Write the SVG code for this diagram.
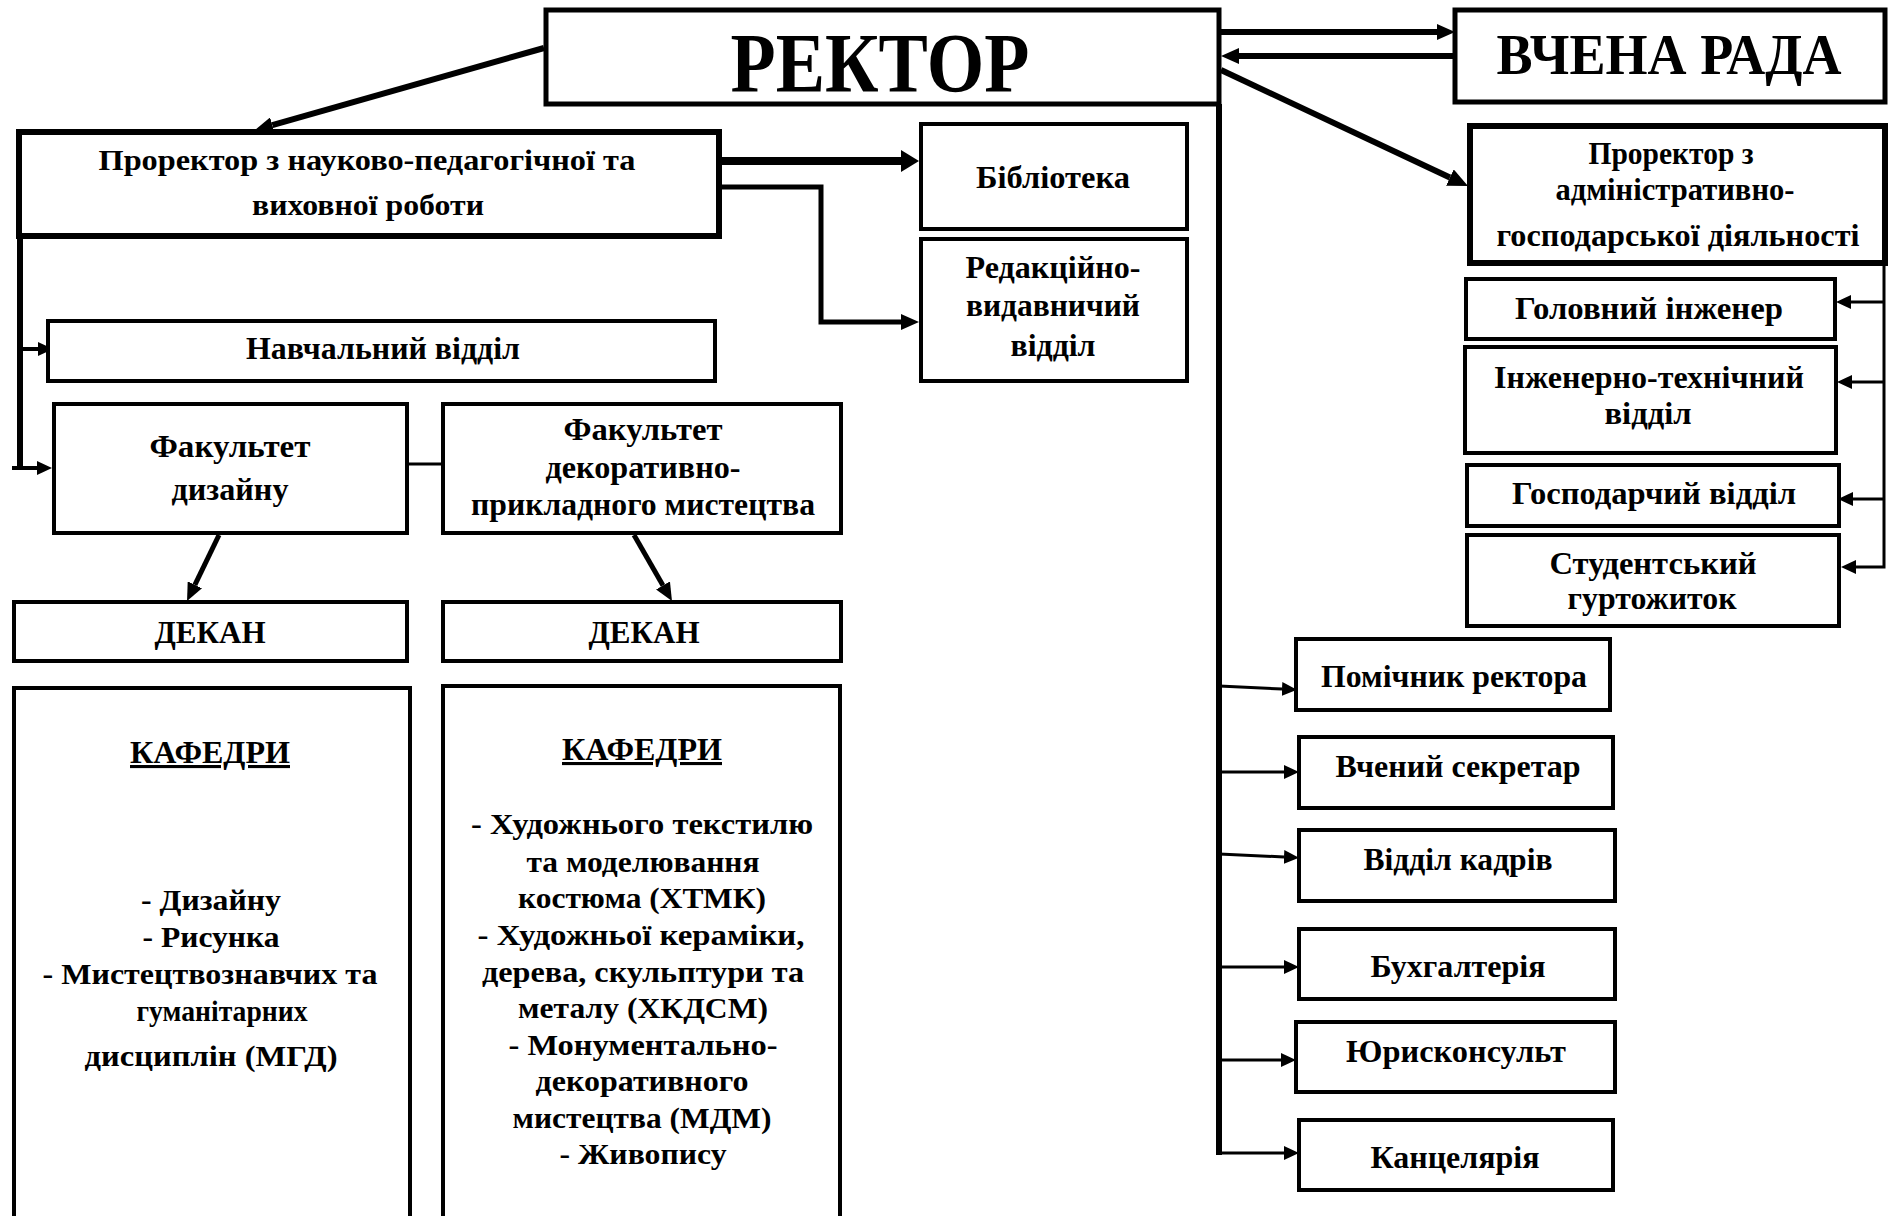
<svg xmlns="http://www.w3.org/2000/svg" width="1888" height="1216" viewBox="0 0 1888 1216">
<style>
.b{fill:#fff;stroke:#000;stroke-width:4}
.b5{fill:#fff;stroke:#000;stroke-width:5}
.b6{fill:#fff;stroke:#000;stroke-width:6}
.t{font-family:"Liberation Serif","Times New Roman",Times,serif;font-weight:bold;text-anchor:middle;fill:#000;font-size:31px}
.s28{font-size:29px}
.big{font-size:84px}
.mid{font-size:56px}
.c{fill:none;stroke:#000;stroke-linecap:butt;stroke-linejoin:miter}
</style>
<defs>
<marker id="a16" markerWidth="18" markerHeight="16" refX="0" refY="8" orient="auto" markerUnits="userSpaceOnUse"><path d="M0,0 L18,8 L0,16 z"/></marker>
<marker id="a22" markerWidth="18" markerHeight="22" refX="0" refY="11" orient="auto" markerUnits="userSpaceOnUse"><path d="M0,0 L18,11 L0,22 z"/></marker>
<marker id="a20" markerWidth="20" markerHeight="18" refX="0" refY="9" orient="auto" markerUnits="userSpaceOnUse"><path d="M0,0 L20,9 L0,18 z"/></marker>
<marker id="a14" markerWidth="15" markerHeight="14" refX="0" refY="7" orient="auto" markerUnits="userSpaceOnUse"><path d="M0,0 L15,7 L0,14 z"/></marker>
</defs>
<rect width="1888" height="1216" fill="#fff"/>

<g id="connectors">
<path class="c" stroke-width="6" d="M1221,32 H1437" marker-end="url(#a16)"/>
<path class="c" stroke-width="6" d="M1455,56 H1239" marker-end="url(#a16)"/>
<path class="c" stroke-width="6" d="M544,48 L272.3,125.1" marker-end="url(#a16)"/>
<path class="c" stroke-width="8" d="M720,161 H901" marker-end="url(#a22)"/>
<path class="c" stroke-width="5" d="M720,187 H821 V322 H901" marker-end="url(#a16)"/>
<path class="c" stroke-width="6" d="M20,237 V470"/>
<path class="c" stroke-width="4" d="M20,349 H38" marker-end="url(#a14)"/>
<path class="c" stroke-width="4" d="M12,468 H37" marker-end="url(#a14)"/>
<path class="c" stroke-width="3" d="M407,464 H443"/>
<path class="c" stroke-width="5" d="M219,535 L194.9,584.8" marker-end="url(#a16)"/>
<path class="c" stroke-width="5" d="M634,535 L663,585.4" marker-end="url(#a16)"/>
<path class="c" stroke-width="6" d="M1221,70 L1449.9,177.5" marker-end="url(#a20)"/>
<path class="c" stroke-width="6" d="M1219,104 V1155"/>
<path class="c" stroke-width="3" d="M1219,1153 H1284" marker-end="url(#a14)"/>
<path class="c" stroke-width="3" d="M1219,686 L1282,689" marker-end="url(#a14)"/>
<path class="c" stroke-width="3" d="M1219,772 H1284" marker-end="url(#a14)"/>
<path class="c" stroke-width="3" d="M1219,854 L1284,857" marker-end="url(#a14)"/>
<path class="c" stroke-width="3" d="M1219,967 H1284" marker-end="url(#a14)"/>
<path class="c" stroke-width="3" d="M1219,1060 H1281" marker-end="url(#a14)"/>
<path class="c" stroke-width="3" d="M1884,263 V567 H1856" marker-end="url(#a14)"/>
<path class="c" stroke-width="3" d="M1884,302 H1851" marker-end="url(#a14)"/>
<path class="c" stroke-width="3" d="M1884,382 H1852" marker-end="url(#a14)"/>
<path class="c" stroke-width="3" d="M1884,499 H1853" marker-end="url(#a14)"/>
</g>

<g id="rector"><rect class="b5" x="546" y="10" width="673" height="94"/>
<text class="t big" x="880" y="92" textLength="299" lengthAdjust="spacingAndGlyphs">РЕКТОР</text></g>

<g id="vchena-rada"><rect class="b5" x="1455" y="10" width="430" height="92"/>
<text class="t mid" x="1669" y="74" textLength="345" lengthAdjust="spacingAndGlyphs">ВЧЕНА РАДА</text></g>

<g id="prorector-npvr"><rect class="b6" x="19" y="132" width="700" height="104"/>
<text class="t s28" x="367" y="170" textLength="537" lengthAdjust="spacingAndGlyphs">Проректор з науково-педагогічної та</text>
<text class="t s28" x="368" y="215" textLength="232" lengthAdjust="spacingAndGlyphs">виховної роботи</text></g>

<g id="biblioteka"><rect class="b" x="921" y="124" width="266" height="105"/>
<text class="t" x="1053" y="188" textLength="154" lengthAdjust="spacingAndGlyphs">Бібліотека</text></g>

<g id="redaktsiino"><rect class="b" x="921" y="239" width="266" height="142"/>
<text class="t" x="1053" y="278" textLength="175" lengthAdjust="spacingAndGlyphs">Редакційно-</text>
<text class="t" x="1053" y="316" textLength="174" lengthAdjust="spacingAndGlyphs">видавничий</text>
<text class="t" x="1053" y="356" textLength="85" lengthAdjust="spacingAndGlyphs">відділ</text></g>

<g id="navchalnyi"><rect class="b" x="48" y="321" width="667" height="60"/>
<text class="t" x="383" y="359" textLength="274" lengthAdjust="spacingAndGlyphs">Навчальний відділ</text></g>

<g id="fak-dyzainu"><rect class="b" x="54" y="404" width="353" height="129"/>
<text class="t" x="230" y="457" textLength="161" lengthAdjust="spacingAndGlyphs">Факультет</text>
<text class="t" x="230" y="500" textLength="117" lengthAdjust="spacingAndGlyphs">дизайну</text></g>

<g id="fak-dpm"><rect class="b" x="443" y="404" width="398" height="129"/>
<text class="t" x="643" y="440" textLength="159" lengthAdjust="spacingAndGlyphs">Факультет</text>
<text class="t" x="643" y="478" textLength="195" lengthAdjust="spacingAndGlyphs">декоративно-</text>
<text class="t" x="643" y="515" textLength="344" lengthAdjust="spacingAndGlyphs">прикладного мистецтва</text></g>

<g id="dekan-1"><rect class="b" x="14" y="602" width="393" height="59"/>
<text class="t" x="210" y="643" textLength="111" lengthAdjust="spacingAndGlyphs">ДЕКАН</text></g>

<g id="dekan-2"><rect class="b" x="443" y="602" width="398" height="59"/>
<text class="t" x="644" y="643" textLength="111" lengthAdjust="spacingAndGlyphs">ДЕКАН</text></g>

<g id="kafedry-1"><rect class="b" x="14" y="688" width="396" height="560"/>
<text class="t" x="210" y="763" text-decoration="underline" textLength="160" lengthAdjust="spacingAndGlyphs">КАФЕДРИ</text>
<text class="t s28" x="211" y="910" textLength="140" lengthAdjust="spacingAndGlyphs">- Дизайну</text>
<text class="t s28" x="211" y="947" textLength="137" lengthAdjust="spacingAndGlyphs">- Рисунка</text>
<text class="t s28" x="210" y="984" textLength="335" lengthAdjust="spacingAndGlyphs">- Мистецтвознавчих та</text>
<text class="t s28" x="222" y="1021" textLength="171" lengthAdjust="spacingAndGlyphs">гуманітарних</text>
<text class="t s28" x="211" y="1066" textLength="253" lengthAdjust="spacingAndGlyphs">дисциплін (МГД)</text></g>

<g id="kafedry-2"><rect class="b" x="443" y="686" width="397" height="560"/>
<text class="t" x="642" y="760" text-decoration="underline" textLength="160" lengthAdjust="spacingAndGlyphs">КАФЕДРИ</text>
<text class="t s28" x="642" y="834" textLength="342" lengthAdjust="spacingAndGlyphs">- Художнього текстилю</text>
<text class="t s28" x="643" y="872" textLength="233" lengthAdjust="spacingAndGlyphs">та моделювання</text>
<text class="t s28" x="642" y="908" textLength="248" lengthAdjust="spacingAndGlyphs">костюма (ХТМК)</text>
<text class="t s28" x="641" y="945" textLength="327" lengthAdjust="spacingAndGlyphs">- Художньої кераміки,</text>
<text class="t s28" x="643" y="982" textLength="322" lengthAdjust="spacingAndGlyphs">дерева, скульптури та</text>
<text class="t s28" x="643" y="1018" textLength="250" lengthAdjust="spacingAndGlyphs">металу (ХКДСМ)</text>
<text class="t s28" x="643" y="1055" textLength="269" lengthAdjust="spacingAndGlyphs">- Монументально-</text>
<text class="t s28" x="642" y="1091" textLength="213" lengthAdjust="spacingAndGlyphs">декоративного</text>
<text class="t s28" x="642" y="1128" textLength="259" lengthAdjust="spacingAndGlyphs">мистецтва (МДМ)</text>
<text class="t s28" x="643" y="1164" textLength="167" lengthAdjust="spacingAndGlyphs">- Живопису</text></g>

<g id="prorector-agd"><rect class="b6" x="1470" y="126" width="415" height="137"/>
<text class="t" x="1671" y="164" textLength="165" lengthAdjust="spacingAndGlyphs">Проректор з</text>
<text class="t" x="1675" y="200" textLength="239" lengthAdjust="spacingAndGlyphs">адміністративно-</text>
<text class="t" x="1678" y="246" textLength="363" lengthAdjust="spacingAndGlyphs">господарської діяльності</text></g>

<g id="golovnyi-inzhener"><rect class="b" x="1466" y="279" width="369" height="60"/>
<text class="t" x="1649" y="319" textLength="268" lengthAdjust="spacingAndGlyphs">Головний інженер</text></g>

<g id="inzh-tekh"><rect class="b" x="1465" y="347" width="371" height="106"/>
<text class="t" x="1649" y="388" textLength="310" lengthAdjust="spacingAndGlyphs">Інженерно-технічний</text>
<text class="t" x="1648" y="424" textLength="87" lengthAdjust="spacingAndGlyphs">відділ</text></g>

<g id="gospodarchyi"><rect class="b" x="1467" y="465" width="372" height="61"/>
<rect x="1741" y="463" width="3" height="4" fill="#000"/>
<text class="t" x="1654" y="504" textLength="284" lengthAdjust="spacingAndGlyphs">Господарчий відділ</text></g>

<g id="gurtozhytok"><rect class="b" x="1467" y="535" width="372" height="91"/>
<text class="t" x="1653" y="574" textLength="207" lengthAdjust="spacingAndGlyphs">Студентський</text>
<text class="t" x="1652" y="609" textLength="169" lengthAdjust="spacingAndGlyphs">гуртожиток</text></g>

<g id="pomichnyk"><rect class="b" x="1296" y="639" width="314" height="71"/>
<text class="t" x="1454" y="687" textLength="266" lengthAdjust="spacingAndGlyphs">Помічник ректора</text></g>

<g id="sekretar"><rect class="b" x="1299" y="737" width="314" height="71"/>
<text class="t" x="1458" y="777" textLength="245" lengthAdjust="spacingAndGlyphs">Вчений секретар</text></g>

<g id="kadry"><rect class="b" x="1299" y="830" width="316" height="71"/>
<text class="t" x="1458" y="870" textLength="189" lengthAdjust="spacingAndGlyphs">Відділ кадрів</text></g>

<g id="bukhgalteriia"><rect class="b" x="1299" y="929" width="316" height="70"/>
<text class="t" x="1458" y="977" textLength="175" lengthAdjust="spacingAndGlyphs">Бухгалтерія</text></g>

<g id="yuryskonsult"><rect class="b" x="1296" y="1022" width="319" height="70"/>
<text class="t" x="1456" y="1062" textLength="220" lengthAdjust="spacingAndGlyphs">Юрисконсульт</text></g>

<g id="kantseliariia"><rect class="b" x="1299" y="1120" width="314" height="70"/>
<text class="t" x="1455" y="1168" textLength="169" lengthAdjust="spacingAndGlyphs">Канцелярія</text></g>
</svg>
